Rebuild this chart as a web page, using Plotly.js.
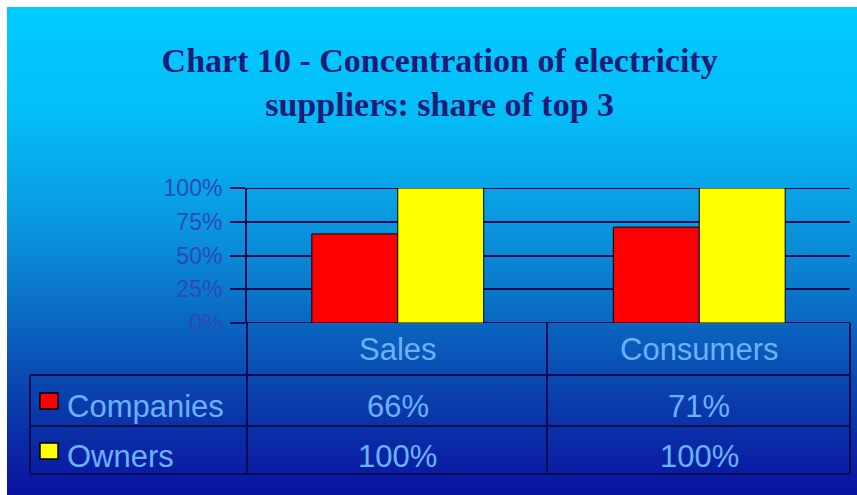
<!DOCTYPE html>
<html>
<head>
<meta charset="utf-8">
<script src="https://cdn.plot.ly/plotly-3.0.1.min.js"></script>
<style>
  html, body { margin: 0; padding: 0; background: #ffffff; }
  #wrap { position: relative; width: 857px; height: 495px; overflow: hidden; }
  #bg { position: absolute; left: 7px; top: 7px; width: 850px; height: 488px;
        background: linear-gradient(to bottom, #00ccff 0%, #04bdf6 22%, #0a96de 45%, #0a66c0 65%, #0a3aaa 82%, #0a12a0 100%); }
  #chart { position: absolute; left: 0; top: 0; width: 857px; height: 495px; }
</style>
</head>
<body>
<div id="wrap">
  <div id="bg"></div>
  <div id="chart"></div>
</div>
<script>
// ---- data ----
const categories = ["Sales", "Consumers"];
const seriesNames = ["Companies", "Owners"];
const companies = [0.66, 0.71];
const owners = [1.00, 1.00];
const yTickVals = [0, 0.25, 0.5, 0.75, 1];
const yTickText = ["0%", "25%", "50%", "75%", "100%"];
const seriesColors = ["#ff0000", "#ffff00"];
const titleText = "Chart 10 - Concentration of electricity<br>suppliers: share of top 3";

// ---- geometry helpers (pixel -> paper) ----
const W = 857, H = 495;
const L = 247, R = 850, T = 188, B = 323;
const xp = px => (px - L) / (R - L);
const yp = py => (B - py) / (B - T);

const lineCol = "#0a0a55";
const textCol = "#6ab2ff";
const tableFont = { family: "Liberation Sans, Arial, sans-serif", size: 31, color: textCol };

const seriesValues = [companies, owners];
const traces = seriesValues.map((vals, i) => ({
  type: "bar",
  name: seriesNames[i],
  x: categories,
  y: vals,
  marker: { color: seriesColors[i], line: { color: "#000000", width: 1 } },
  hoverinfo: "x+y+name"
}));

const shapes = [];
function hline(y, x0, x1) {
  shapes.push({ type: "line", xref: "paper", yref: "paper", x0: xp(x0), x1: xp(x1), y0: yp(y), y1: yp(y),
    line: { color: lineCol, width: 2 } });
}
function vline(x, y0, y1) {
  shapes.push({ type: "line", xref: "paper", yref: "paper", x0: xp(x), x1: xp(x), y0: yp(y0), y1: yp(y1),
    line: { color: lineCol, width: 2 } });
}
// gridlines at the range edges (0% and 100%), drawn below the bars
[yTickVals[0], yTickVals[yTickVals.length - 1]].forEach(v => {
  shapes.push({ type: "line", xref: "paper", yref: "y", x0: 0, x1: 1, y0: v, y1: v, layer: "below",
    line: { color: lineCol, width: 2 } });
});
// table grid
hline(375, 30, 850);
hline(426, 30, 850);
hline(474, 30, 850);
vline(30, 375, 474);
vline(247, 323, 474);
vline(547, 323, 474);
vline(850, 323, 474);

const annotations = [];
// header row: category names
categories.forEach(c => {
  annotations.push({ x: c, xref: "x", y: yp(349), yref: "paper", text: c, showarrow: false,
    font: tableFont, xanchor: "center", yanchor: "middle" });
});
// data rows
const rowCenters = [401, 451];
seriesNames.forEach((name, i) => {
  // legend key
  shapes.push({ type: "rect", xref: "paper", yref: "paper",
    x0: xp(40), x1: xp(58), y0: yp(rowCenters[i] - 8), y1: yp(rowCenters[i] + 8),
    fillcolor: seriesColors[i], line: { color: "#000000", width: 1.5 } });
  annotations.push({ x: xp(65), xref: "paper", y: yp(rowCenters[i] + 5), yref: "paper", text: name,
    showarrow: false, font: tableFont, xanchor: "left", yanchor: "middle" });
  categories.forEach((c, j) => {
    annotations.push({ x: c, xref: "x", y: yp(rowCenters[i] + 5), yref: "paper",
      text: Math.round(seriesValues[i][j] * 100) + "%", showarrow: false,
      font: tableFont, xanchor: "center", yanchor: "middle" });
  });
});

const layout = {
  width: W, height: H,
  paper_bgcolor: "rgba(0,0,0,0)",
  plot_bgcolor: "rgba(0,0,0,0)",
  margin: { l: L, r: W - R, t: T, b: H - B, pad: 0 },
  title: { text: titleText, x: 0.513, xanchor: "center", y: 1 - 72 / H, yanchor: "top",
    font: { family: "Liberation Serif, Times New Roman, serif", size: 34, color: "#1c1c78", weight: "bold" } },
  showlegend: false,
  barmode: "group",
  bargap: 0.43,
  bargroupgap: 0,
  xaxis: { type: "category", showticklabels: false, showgrid: false, zeroline: false,
    showline: false, ticks: "" },
  yaxis: { range: [0, 1], tickvals: yTickVals, ticktext: yTickText, showgrid: true,
    gridcolor: lineCol, gridwidth: 2, zeroline: false, showline: true, linecolor: lineCol, linewidth: 2,
    ticks: "outside", ticklen: 15, tickwidth: 2, tickcolor: lineCol, ticklabelstandoff: 3,
    tickfont: { family: "Liberation Sans, Arial, sans-serif", size: 23, color: "#2a4ab8" } },
  shapes: shapes,
  annotations: annotations
};

Plotly.newPlot("chart", traces, layout, { displayModeBar: false, staticPlot: true });
</script>
</body>
</html>
